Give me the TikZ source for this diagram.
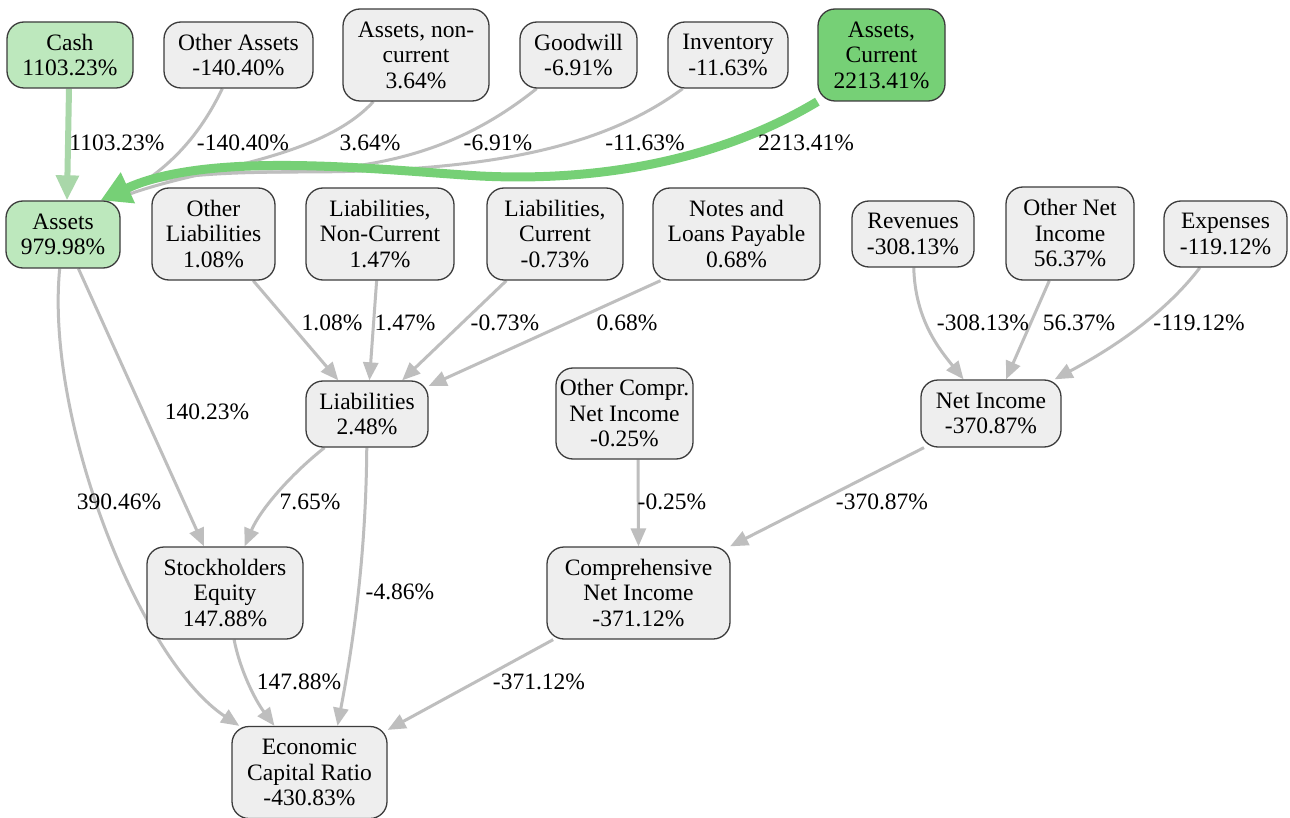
\documentclass[tikz,border=0pt]{standalone}
\usepackage{fontspec}
\setmainfont{LiberationSerif}[Extension=.ttf,UprightFont=*-Regular,BoldFont=*-Bold,ItalicFont=*-Italic,BoldItalicFont=*-BoldItalic]
\usetikzlibrary{arrows.meta,backgrounds}
\definecolor{nodefill}{HTML}{EEEEEE}
\definecolor{nodedraw}{HTML}{3C3C3C}
\definecolor{edgegray}{HTML}{BEBEBE}
\definecolor{lightgreen}{HTML}{BDE8BD}
\definecolor{midgreen}{HTML}{76D076}
\definecolor{cashgreen}{HTML}{A9D7A9}
\begin{document}
\begin{tikzpicture}[x=1pt,y=-1pt,
  box/.style={draw=nodedraw, line width=1.3pt, fill=nodefill, rounded corners=17pt,
    align=center, inner sep=0pt, font=\rmfamily\fontsize{23.5}{25.5}\selectfont},
  lbl/.style={inner sep=0pt, font=\rmfamily\fontsize{23.5}{25.5}\selectfont},
  gedge/.style={draw=edgegray, line width=3pt, -{Triangle[length=18pt,width=15pt]}},
  cedge/.style={draw=cashgreen, line width=6pt, -{Triangle[length=25pt,width=22pt]}},
  bigedge/.style={draw=midgreen, line width=9pt, -{Triangle[length=30pt,width=32pt]}}]
\useasboundingbox (0,0) rectangle (1290,818);
% nodes
\node[box, fill=lightgreen, minimum width=126pt, minimum height=66pt] (cash) at (70,55) {Cash\\1103.23\%};
\node[box, minimum width=149pt, minimum height=66pt] (oa) at (238.5,55) {Other Assets\\-140.40\%};
\node[box, minimum width=146pt, minimum height=92pt] (anc) at (416,55) {Assets, non-\\current\\3.64\%};
\node[box, minimum width=117pt, minimum height=66pt] (gw) at (578.5,55) {Goodwill\\-6.91\%};
\node[box, minimum width=120pt, minimum height=66pt] (inv) at (728,55) {Inventory\\-11.63\%};
\node[box, fill=midgreen, minimum width=127pt, minimum height=92pt] (ac) at (881.5,55) {Assets,\\Current\\2213.41\%};
\node[box, fill=lightgreen, minimum width=114pt, minimum height=67pt] (as) at (63,234.5) {Assets\\979.98\%};
\node[box, minimum width=123pt, minimum height=92pt] (ol) at (213.5,234) {Other\\Liabilities\\1.08\%};
\node[box, minimum width=148pt, minimum height=92pt] (lnc) at (380,234) {Liabilities,\\Non-Current\\1.47\%};
\node[box, minimum width=136pt, minimum height=92pt] (lc) at (555,234) {Liabilities,\\Current\\-0.73\%};
\node[box, minimum width=167pt, minimum height=92pt] (nlp) at (736.5,234) {Notes and\\Loans Payable\\0.68\%};
\node[box, minimum width=122pt, minimum height=66pt] (rev) at (913,234) {Revenues\\-308.13\%};
\node[box, minimum width=128pt, minimum height=93pt] (oni) at (1070,233.5) {Other Net\\Income\\56.37\%};
\node[box, minimum width=123pt, minimum height=66pt] (exp) at (1225.5,234) {Expenses\\-119.12\%};
\node[box, minimum width=122pt, minimum height=66pt] (li) at (367,414) {Liabilities\\2.48\%};
\node[box, minimum width=137pt, minimum height=91pt] (oc) at (624.5,413.5) {Other Compr.\\Net Income\\-0.25\%};
\node[box, minimum width=140pt, minimum height=67pt] (ni) at (991,413.5) {Net Income\\-370.87\%};
\node[box, minimum width=156pt, minimum height=92pt] (se) at (225,593) {Stockholders\\Equity\\147.88\%};
\node[box, minimum width=183pt, minimum height=92pt] (cni) at (638.5,593) {Comprehensive\\Net Income\\-371.12\%};
\node[box, minimum width=155pt, minimum height=92pt] (ecr) at (309.5,772.5) {Economic\\Capital Ratio\\-430.83\%};
% labels
\node[lbl] (l1) at (117,143) {1103.23\%};
\node[lbl] (l2) at (243,143) {-140.40\%};
\node[lbl] (l3) at (370,143) {3.64\%};
\node[lbl] (l4) at (498,143) {-6.91\%};
\node[lbl] (l5) at (645,143) {-11.63\%};
\node[lbl] (l6) at (806,143) {2213.41\%};
\node[lbl] (l7) at (332,323) {1.08\%};
\node[lbl] (l8) at (405,323) {1.47\%};
\node[lbl] (l9) at (505,323) {-0.73\%};
\node[lbl] (l10) at (627,323) {0.68\%};
\node[lbl] (l11) at (207,412) {140.23\%};
\node[lbl] (l12) at (119,502) {390.46\%};
\node[lbl] (l13) at (310,502) {7.65\%};
\node[lbl] (l14) at (400,592) {-4.86\%};
\node[lbl] (l15) at (299,682) {147.88\%};
\node[lbl] (l16) at (539,682) {-371.12\%};
\node[lbl] (l17) at (672,502) {-0.25\%};
\node[lbl] (l18) at (882,502) {-370.87\%};
\node[lbl] (l19) at (983,323) {-308.13\%};
\node[lbl] (l20) at (1079,323) {56.37\%};
\node[lbl] (l21) at (1199,323) {-119.12\%};
\begin{pgfonlayer}{background}
\fill[white] (0,0) rectangle (1290,818);
% gray edges
\draw[gedge] (oa) .. controls (200,135) and (170,168) .. ([xshift=-8pt]as.north east);
\draw[gedge] (anc) .. controls (320,160) and (200,168) .. ([xshift=-8pt]as.north east);
\draw[gedge] (gw) .. controls (460,150) and (380,172) .. (260,172) .. controls (180,172) and (150,178) .. ([xshift=-8pt]as.north east);
\draw[gedge] (inv) .. controls (600,150) and (480,172) .. (300,172) .. controls (200,172) and (150,178) .. ([xshift=-8pt]as.north east);
\draw[gedge] (as) -- (se);
\draw[gedge] (as) .. controls (45,420) and (140,660) .. (ecr);
\draw[gedge] (ol) -- (li);
\draw[gedge] (lnc) -- (li);
\draw[gedge] (lc) -- (li);
\draw[gedge] ([xshift=-76pt]nlp.south) -- (li);
\draw[gedge] (li) .. controls (290,475) and (260,510) .. (se);
\draw[gedge] (li) .. controls (366,560) and (352,650) .. ([xshift=28pt]ecr.north);
\draw[gedge] (se) .. controls (240,670) and (255,700) .. (ecr);
\draw[gedge] (cni) -- (ecr);
\draw[gedge] ([xshift=13.5pt]oc.south) -- (cni.north);
\draw[gedge] (ni) -- (cni);
\draw[gedge] (rev) .. controls (915,320) and (940,350) .. (ni);
\draw[gedge] (oni) -- (ni);
\draw[gedge] (exp) .. controls (1160,320) and (1100,355) .. (ni);
% green edges
\draw[cedge] ([xshift=-1pt]cash.south) -- ([xshift=4pt]as.north);
\draw[bigedge] (ac.south west) .. controls (720,160) and (600,182) .. (480,176) .. controls (380,170) and (210,150) .. ([xshift=-20pt]as.north east);
\end{pgfonlayer}
\end{tikzpicture}
\end{document}
